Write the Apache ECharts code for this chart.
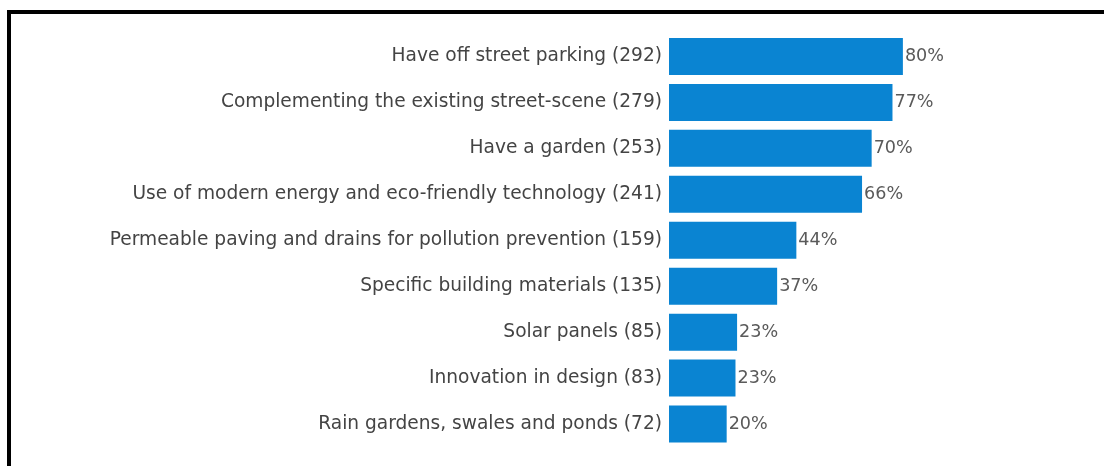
<!DOCTYPE html>
<html><head><meta charset="utf-8">
<script src="https://cdn.jsdelivr.net/npm/echarts@6/dist/echarts.min.js"></script>
<style>html,body{margin:0;padding:0;background:#fff}#c{width:1104px;height:466px}</style>
</head><body><div id="c"></div>
<script>
const categories = [
  "Have off street parking (292)",
  "Complementing the existing street-scene (279)",
  "Have a garden (253)",
  "Use of modern energy and eco-friendly technology (241)",
  "Permeable paving and drains for pollution prevention (159)",
  "Specific building materials (135)",
  "Solar panels (85)",
  "Innovation in design (83)",
  "Rain gardens, swales and ponds (72)"
];
const counts = [292, 279, 253, 241, 159, 135, 85, 83, 72];
const pctLabels = ["80%", "77%", "70%", "66%", "44%", "37%", "23%", "23%", "20%"];

const chart = echarts.init(document.getElementById('c'));
chart.setOption({
  animation: false,
  grid: {left: 669, right: 114.6, top: 33.5, bottom: 19, containLabel: false},
  xAxis: {type: 'value', min: 0, max: 400, show: false},
  yAxis: {
    type: 'category', data: categories, inverse: true,
    axisLine: {show: false}, axisTick: {show: false},
    axisLabel: {color: '#444444', fontSize: 18.6, fontFamily: 'DejaVu Sans', margin: 7}
  },
  series: [{
    type: 'bar', data: counts, barWidth: 37,
    itemStyle: {color: '#0a84d2'},
    label: {show: true, position: 'right', distance: 2, color: '#5a5a5a', fontSize: 17.6,
      fontFamily: 'DejaVu Sans',
      formatter: p => pctLabels[p.dataIndex]}
  }],
  graphic: [
    {type: 'rect', shape: {x: 7, y: 10, width: 1097, height: 4}, style: {fill: '#000'}},
    {type: 'rect', shape: {x: 7, y: 10, width: 4, height: 456}, style: {fill: '#000'}}
  ]
});
</script></body></html>
